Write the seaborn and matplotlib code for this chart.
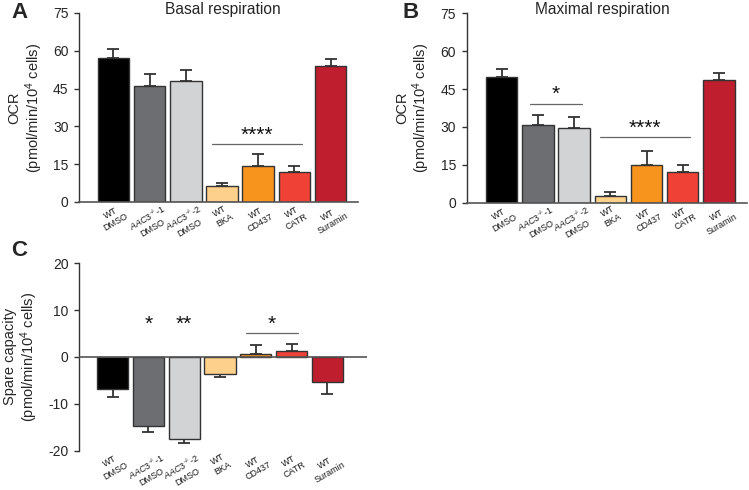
import matplotlib
matplotlib.use("Agg")
import matplotlib.pyplot as plt
import seaborn as sns
import numpy as np
import pandas as pd

sns.set_style("white")
plt.rcParams['font.family'] = ['Liberation Sans', 'DejaVu Sans']
plt.rcParams['mathtext.fontset'] = 'custom'
plt.rcParams['mathtext.rm'] = 'Liberation Sans'
plt.rcParams['mathtext.it'] = 'Liberation Sans:italic'
plt.rcParams['mathtext.bf'] = 'Liberation Sans:bold'
plt.rcParams['axes.unicode_minus'] = False

categories = ["WT\nDMSO", "$\\it{AAC3}^{\\text{-/-}}$-1\nDMSO", "$\\it{AAC3}^{\\text{-/-}}$-2\nDMSO",
              "WT\nBKA", "WT\nCD437", "WT\nCATR", "WT\nSuramin"]
colors = ["#000000", "#6d6e71", "#d1d3d4", "#fdd08b", "#f7941d", "#ef4136", "#be1e2d"]

basal = [57.3, 46.2, 47.9, 6.2, 14.1, 11.8, 54.1]
basal_err = [3.5, 4.4, 4.3, 1.5, 4.8, 2.3, 2.8]

maximal = [49.9, 30.8, 29.7, 2.5, 14.9, 12.1, 48.5]
maximal_err = [2.9, 3.8, 4.4, 1.6, 5.5, 2.7, 2.7]

spare = [-6.8, -14.8, -17.5, -3.6, 0.6, 1.2, -5.3]
spare_err = [1.7, 1.2, 0.9, 0.8, 2.0, 1.6, 2.6]

ylabel_ocr = "OCR\n(pmol/min/10$^{4}$ cells)"
ylabel_spare = "Spare capacity\n(pmol/min/10$^{4}$ cells)"

fig = plt.figure(figsize=(7.49, 4.90), dpi=100)

axA = fig.add_axes([0.1055, 0.5878, 0.3725, 0.3857])
axB = fig.add_axes([0.623, 0.5863, 0.374, 0.3865])
axC = fig.add_axes([0.1055, 0.0806, 0.384, 0.3821])

SPINE = "#333333"
AXLINE = "#555555"


def draw(ax, vals, errs, ylim, yticks, ylabel, xlim, zero_line=False):
    df = pd.DataFrame({"cat": categories, "val": vals})
    sns.barplot(data=df, x="cat", y="val", hue="cat", palette=colors, legend=False,
                saturation=1, edgecolor="#333333", linewidth=1.0, width=0.87,
                ax=ax, errorbar=None)
    x = np.arange(len(vals))
    v = np.array(vals)
    e = np.array(errs)
    lower = np.where(v < 0, e, 0)
    upper = np.where(v >= 0, e, 0)
    ax.errorbar(x, v, yerr=[lower, upper], fmt="none", ecolor="#333333",
                elinewidth=1.3, capsize=4.5, capthick=1.3, zorder=1)
    for b in ax.patches:
        b.set_zorder(2)
    ax.set_ylim(*ylim)
    ax.set_yticks(yticks)
    ax.set_xlim(*xlim)
    ax.set_xlabel("")
    ax.set_ylabel(ylabel, fontsize=10.5, labelpad=6, linespacing=1.1)
    ax.tick_params(axis="y", which="both", left=True, length=3.6, width=1.0,
                   color=SPINE, labelsize=10, pad=4)
    ax.tick_params(axis="x", bottom=False, length=0, labelsize=6.5, pad=0.4)
    for lab in ax.get_xticklabels():
        lab.set_rotation(30)
        lab.set_ha("center")
        lab.set_multialignment("center")
        lab.set_color("#1a1a1a")
    for s in ["top", "right"]:
        ax.spines[s].set_visible(False)
    ax.spines["left"].set_color(SPINE)
    ax.spines["left"].set_linewidth(1.0)
    if zero_line:
        ax.spines["bottom"].set_visible(False)
        ax.axhline(0, color=AXLINE, lw=1.2, zorder=3)
    else:
        ax.spines["bottom"].set_color(AXLINE)
        ax.spines["bottom"].set_linewidth(1.2)


def sig(ax, x0, x1, y, text, ty, line=True):
    if line:
        ax.plot([x0, x1], [y, y], color="#666666", lw=0.9)
    ax.text((x0 + x1) / 2, ty, text, ha="center", va="center", fontsize=15, color="#111111")


draw(axA, basal, basal_err, (0, 75), [0, 15, 30, 45, 60, 75], ylabel_ocr, (-0.95, 6.76))
sig(axA, 2.72, 5.2, 23, "****", 26.5)

draw(axB, maximal, maximal_err, (0, 75), [0, 15, 30, 45, 60, 75], ylabel_ocr, (-0.97, 6.77))
sig(axB, 0.78, 2.22, 39.2, "*", 43.0)
sig(axB, 2.71, 5.2, 25.9, "****", 29.5)

draw(axC, spare, spare_err, (-20, 20), [-20, -10, 0, 10, 20], ylabel_spare, (-0.94, 7.1),
     zero_line=True)
sig(axC, 1, 1, 0, "*", 7.0, line=False)
sig(axC, 2, 2, 0, "**", 7.0, line=False)
sig(axC, 3.73, 5.18, 5.1, "*", 7.0)

fig.text(0.298, 0.981, "Basal respiration", ha="center", va="center", fontsize=11.2)
fig.text(0.804, 0.981, "Maximal respiration", ha="center", va="center", fontsize=11.2)
fig.text(0.015, 0.974, "A", fontsize=16, fontweight="bold", va="center")
fig.text(0.537, 0.974, "B", fontsize=16, fontweight="bold", va="center")
fig.text(0.015, 0.488, "C", fontsize=16, fontweight="bold", va="center")

fig.savefig("out.png", dpi=100)
